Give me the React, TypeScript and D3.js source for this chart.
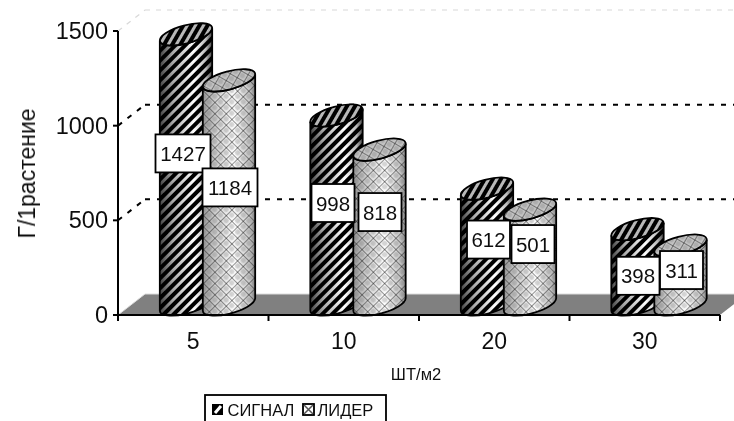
import React from "react";
import * as d3 from "d3";

const categories = ["5", "10", "20", "30"];
const seriesNames = ["СИГНАЛ", "ЛИДЕР"];
const signalValues = [1427, 998, 612, 398];
const liderValues = [1184, 818, 501, 311];
const yTicks = [0, 500, 1000, 1500];
const xTitle = "ШТ/м2";
const yTitle = "Г/1растение";

const W = 734, H = 421;
const FONT = "'Liberation Sans', Arial, sans-serif";
const y = d3.scaleLinear().domain([0, 1500]).range([315, 31]);
const x = d3.scaleBand<string>().domain(categories).range([118, 720]);
const depth = { dx: 27, dy: -21 };
const RX = 27, RY = 9, ANGLE = -15;
const barOffset = [68, 111];
const baseY = 304.5;

// label box nudges from each cylinder's centre / mid height
const labelNudge = [
  [[-3, -16], [1, -5]],
  [[-3.5, -7], [0.5, -15]],
  [[1.5, -7], [3, -13]],
  [[0.5, 9], [1, -5]],
];

function cylinder(cx: number, topY: number, botY: number) {
  const a = (ANGLE * Math.PI) / 180;
  const t = Math.atan2(-RY * Math.sin(a), RX * Math.cos(a));
  const ex = RX * Math.cos(t) * Math.cos(a) - RY * Math.sin(t) * Math.sin(a);
  const ey = RX * Math.cos(t) * Math.sin(a) + RY * Math.sin(t) * Math.cos(a);
  const p = d3.path();
  p.moveTo(cx - ex, topY - ey);
  p.lineTo(cx - ex, botY - ey);
  const arc = (tx: number, ty: number, sweep: number) =>
    `A${RX} ${RY} ${ANGLE} 0 ${sweep} ${tx} ${ty}`;
  return `${p.toString()}${arc(cx + ex, botY + ey, 0)}L${cx + ex} ${topY + ey}${arc(cx - ex, topY - ey, 1)}Z`;
}

function Cyl({ cx, v, s }: { cx: number; v: number; s: number }) {
  const top = baseY - (y(0) - y(v));
  const d = cylinder(cx, top, baseY);
  const name = s === 0 ? "sig" : "lid";
  const el = (fill: string) => (
    <ellipse cx={cx} cy={top} rx={RX} ry={RY} transform={`rotate(${ANGLE} ${cx} ${top})`} fill={fill} />
  );
  return (
    <g>
      <path d={d} fill={`url(#${name}Grad)`} />
      <path d={d} fill={`url(#${name}Pat)`} stroke="#000" strokeWidth={1.8} />
      {el(s === 0 ? "#b8b8b8" : "#c4c4c4")}
      <g stroke="#000" strokeWidth={1.8}>{el(`url(#${name}Pat)`)}</g>
    </g>
  );
}

export default function App() {
  const series = [signalValues, liderValues];
  const back = (yy: number) => yy + depth.dy;
  return (
    <svg width={W} height={H} style={{ position: "absolute", left: 0, top: 0 }} fontFamily={FONT}>
      <defs>
        <filter id="soft" x="-5%" y="-5%" width="110%" height="110%">
          <feGaussianBlur stdDeviation="0.35" />
        </filter>
        <linearGradient id="sigGrad">
          <stop offset="0" stopColor="#444" />
          <stop offset="0.25" stopColor="#aaa" />
          <stop offset="0.65" stopColor="#fff" />
          <stop offset="0.88" stopColor="#bbb" />
          <stop offset="1" stopColor="#444" />
        </linearGradient>
        <linearGradient id="lidGrad">
          <stop offset="0" stopColor="#999" />
          <stop offset="0.25" stopColor="#d0d0d0" />
          <stop offset="0.6" stopColor="#fff" />
          <stop offset="0.9" stopColor="#c4c4c4" />
          <stop offset="1" stopColor="#888" />
        </linearGradient>
        <pattern id="sigPat" width="7" height="7" patternUnits="userSpaceOnUse" patternTransform="rotate(45)">
          <rect x="0" y="0" width="4" height="7" fill="#000" />
        </pattern>
        <pattern id="lidPat" width="8" height="8" patternUnits="userSpaceOnUse" patternTransform="rotate(45)">
          <circle cx="4" cy="4" r="2.6" fill="#777" fillOpacity="0.3" />
          <path d="M0 0H8M0 0V8" stroke="#111" strokeWidth="0.9" fill="none" />
        </pattern>
      </defs>
      <g filter="url(#soft)">
        {/* back wall */}
        <line x1={118 + depth.dx} x2={W} y1={back(y(1500))} y2={back(y(1500))} stroke="#d8d8d8" strokeWidth={1.2} strokeDasharray="5 6" />
        <line x1={118} y1={y(1500)} x2={118 + depth.dx} y2={back(y(1500))} stroke="#d8d8d8" strokeWidth={1.2} strokeDasharray="5 6" />
        {[500, 1000].map((t) => (
          <g key={t} stroke="#000" strokeWidth={2} strokeDasharray="5 7">
            <line x1={118 + depth.dx} x2={W} y1={back(y(t))} y2={back(y(t))} />
            <line x1={118} y1={y(t)} x2={118 + depth.dx} y2={back(y(t))} />
          </g>
        ))}
        {/* floor */}
        <path
          d={`M118 315L${118 + depth.dx} ${back(315)}H${720 + depth.dx}L720 315Z`}
          fill="#808080"
        />
        <path d={`M118 315L${118 + depth.dx} ${back(315)}H${W}`} fill="none" stroke="#dcdcdc" strokeWidth={1} />

        {/* cylinders */}
        {categories.map((c, i) =>
          series.map((vals, s) => (
            <Cyl key={c + s} cx={(x(c) as number) + barOffset[s]} v={vals[i]} s={s} />
          ))
        )}

        {/* axes */}
        <g stroke="#000" strokeWidth={2}>
          <line x1={118} x2={118} y1={y(1500)} y2={y(0) + 5} />
          <line x1={113} x2={720} y1={y(0)} y2={y(0)} />
          {yTicks.map((t) => (
            <line key={t} x1={113} x2={118} y1={y(t)} y2={y(t)} />
          ))}
          {categories.concat("end").map((c, i) => {
            const px = 118 + i * x.bandwidth();
            return <line key={c} x1={px} x2={px} y1={y(0)} y2={y(0) + 6} />;
          })}
        </g>
        <g fontSize={23.5} fill="#111" textAnchor="end">
          {yTicks.map((t) => (
            <text key={t} x={108} y={y(t) + 8}>{t}</text>
          ))}
        </g>
        <g fontSize={23} fill="#111" textAnchor="middle">
          {categories.map((c) => (
            <text key={c} x={(x(c) as number) + x.bandwidth() / 2} y={349}>{c}</text>
          ))}
        </g>
        <text x={416} y={380} fontSize={16.5} textAnchor="middle" fill="#111">{xTitle}</text>
        <text transform="translate(35,173.5) rotate(-90)" fontSize={23} textAnchor="middle" fill="#111">{yTitle}</text>

        {/* value labels */}
        {categories.map((c, i) =>
          series.map((vals, s) => {
            const cx = (x(c) as number) + barOffset[s];
            const mid = baseY - (y(0) - y(vals[i])) / 2;
            const [nx, ny] = labelNudge[i][s];
            const lx = cx + nx, ly = mid + ny;
            const w = vals[i] >= 1000 ? 55 : 43;
            return (
              <g key={c + s + "l"}>
                <rect x={lx - w / 2} y={ly - 19} width={w} height={38} fill="#fff" stroke="#000" strokeWidth={1.8} />
                <text x={lx} y={ly + 7.5} fontSize={20.5} textAnchor="middle" fill="#111">{vals[i]}</text>
              </g>
            );
          })
        )}

        {/* legend */}
        <rect x={205} y={395} width={181} height={40} fill="#fff" stroke="#000" strokeWidth={1.8} />
        <rect x={212} y={404} width={11} height={11} fill="#000" />
        <path d="M215 413L221 406" stroke="#fff" strokeWidth={3} />
        <text x={227.5} y={415.5} fontSize={16.5} fill="#111">{seriesNames[0]}</text>
        <rect x={303} y={404} width={11} height={11} fill="#fff" stroke="#000" strokeWidth={1.8} />
        <path d="M304 405L313 414M313 405L304 414" stroke="#555" strokeWidth={1.5} />
        <text x={317.5} y={415.5} fontSize={16.5} fill="#111">{seriesNames[1]}</text>
      </g>
    </svg>
  );
}
